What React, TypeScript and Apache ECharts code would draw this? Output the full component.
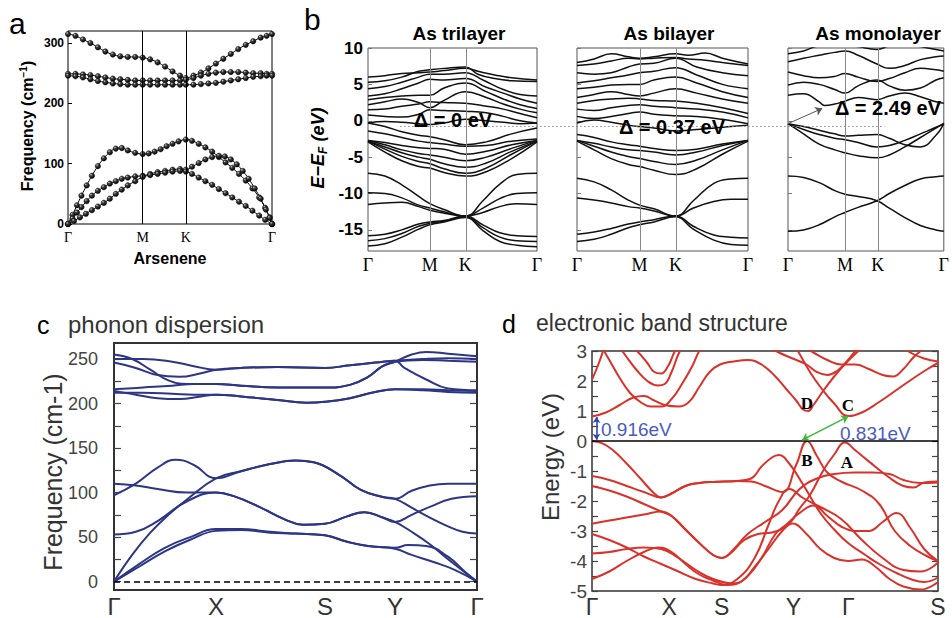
import React, { useEffect, useRef } from "react";
import * as echarts from "echarts";

// ---------- Panel a : arsenene phonons ----------
const A_TICKS = [0, 1, 1.577, 2.732];
const A_TICK_NAMES = ["Γ", "M", "K", "Γ"];
const A_Y_LABELS = [0, 100, 200, 300];
const A_BRANCHES: number[][][] = [
  [[0,315],[0.1,312],[0.2,306],[0.3,300],[0.4,293],[0.5,286],[0.6,281],[0.7,278],[0.8,277],[0.9,277],[1,276],[1.1,273],[1.2,268],[1.3,261],[1.4,253],[1.5,246],[1.577,242],[1.68,246],[1.78,251],[1.88,258],[1.98,266],[2.08,274],[2.18,282],[2.28,290],[2.38,297],[2.48,303],[2.58,309],[2.66,312],[2.732,315]],
  [[0,249],[0.1,249],[0.2,248],[0.3,247],[0.4,245],[0.5,243],[0.6,241],[0.7,240],[0.8,239],[0.9,238],[1,238],[1.1,238],[1.2,238],[1.3,238],[1.4,238],[1.5,238],[1.577,239],[1.68,242],[1.78,246],[1.88,249],[1.98,251],[2.08,252],[2.18,252],[2.28,252],[2.38,251],[2.48,250],[2.58,250],[2.66,249],[2.732,249]],
  [[0,246],[0.1,245],[0.2,243],[0.3,240],[0.4,237],[0.5,235],[0.6,233],[0.7,232],[0.8,231],[0.9,231],[1,231],[1.1,231],[1.2,231],[1.3,231],[1.4,231],[1.5,231],[1.577,231],[1.68,231],[1.78,232],[1.88,233],[1.98,234],[2.08,236],[2.18,238],[2.28,240],[2.38,242],[2.48,244],[2.58,245],[2.66,246],[2.732,246]],
  [[0,0],[0.06,15],[0.12,31],[0.18,47],[0.25,64],[0.32,80],[0.4,96],[0.48,109],[0.56,119],[0.64,125],[0.72,126],[0.8,122],[0.9,118],[1,116],[1.08,117],[1.16,120],[1.24,124],[1.32,129],[1.4,133],[1.48,137],[1.577,140],[1.66,138],[1.75,133],[1.84,127],[1.93,120],[2.02,111],[2.11,102],[2.2,93],[2.29,83],[2.38,72],[2.47,59],[2.56,44],[2.64,27],[2.7,11],[2.732,0]],
  [[0,0],[0.06,9],[0.12,19],[0.18,28],[0.25,38],[0.32,47],[0.4,55],[0.48,61],[0.56,67],[0.64,71],[0.72,75],[0.8,77],[0.9,79],[1,80],[1.1,83],[1.2,86],[1.3,88],[1.4,90],[1.5,91],[1.577,90],[1.66,95],[1.75,101],[1.84,107],[1.93,111],[2.02,113],[2.1,112],[2.18,107],[2.26,99],[2.34,88],[2.42,75],[2.5,59],[2.58,42],[2.65,24],[2.7,10],[2.732,0]],
  [[0,0],[0.08,5],[0.16,11],[0.24,17],[0.32,23],[0.4,29],[0.48,35],[0.56,42],[0.64,50],[0.72,57],[0.8,64],[0.9,71],[1,78],[1.1,81],[1.2,83],[1.3,85],[1.4,87],[1.5,88],[1.577,87],[1.66,83],[1.75,77],[1.84,71],[1.93,65],[2.02,58],[2.11,51],[2.2,44],[2.29,37],[2.38,30],[2.47,22],[2.56,14],[2.64,7],[2.732,0]],
];

// ---------- Panel b : As multilayer bands ----------
const B_TICKS = [0, 0.366, 0.576, 1];
const B_TICK_NAMES = ["Γ", "M", "K", "Γ"];
const B_Y_LABELS = [-15, -10, -5, 0, 5, 10];
const TRILAYER: number[][][] = [
  [[0,-7.2],[0.1,-7.6],[0.2,-8.8],[0.3,-10.4],[0.366,-11.4],[0.45,-12.2],[0.576,-13.1],[0.68,-11.0],[0.78,-8.7],[0.88,-7.4],[1,-7.2]],
  [[0,-9.9],[0.1,-10.0],[0.2,-10.6],[0.3,-11.6],[0.366,-12.0],[0.45,-12.5],[0.576,-13.1],[0.68,-12.0],[0.78,-10.7],[0.88,-10.0],[1,-9.9]],
  [[0,-11.5],[0.1,-11.3],[0.2,-11.2],[0.3,-11.8],[0.366,-12.3],[0.45,-12.7],[0.576,-13.1],[0.68,-12.6],[0.78,-11.8],[0.88,-11.4],[1,-11.5]],
  [[0,-15.8],[0.1,-15.6],[0.2,-15.0],[0.3,-14.2],[0.366,-13.9],[0.45,-13.7],[0.576,-13.1],[0.68,-14.3],[0.78,-15.4],[0.88,-15.8],[1,-15.9]],
  [[0,-16.5],[0.1,-16.2],[0.2,-15.5],[0.3,-14.5],[0.366,-14.1],[0.45,-13.8],[0.576,-13.2],[0.68,-14.7],[0.78,-16.0],[0.88,-16.5],[1,-16.6]],
  [[0,-17.2],[0.1,-16.9],[0.2,-16.0],[0.3,-14.9],[0.366,-14.3],[0.45,-13.9],[0.576,-13.3],[0.68,-15.1],[0.78,-16.6],[0.88,-17.1],[1,-17.3]],
  [[0,-2.7],[0.1,-3.0],[0.2,-3.4],[0.3,-3.7],[0.366,-3.8],[0.45,-3.9],[0.576,-4.6],[0.7,-4.2],[0.85,-3.3],[1,-2.7]],
  [[0,-2.7],[0.1,-3.3],[0.2,-4.0],[0.3,-4.5],[0.366,-4.7],[0.45,-5.0],[0.576,-5.5],[0.7,-5.0],[0.85,-3.8],[1,-2.7]],
  [[0,-2.8],[0.1,-3.6],[0.2,-4.4],[0.3,-5.0],[0.366,-5.3],[0.45,-5.9],[0.576,-6.4],[0.7,-5.8],[0.85,-4.2],[1,-2.8]],
  [[0,-2.8],[0.1,-3.9],[0.2,-4.9],[0.3,-5.6],[0.366,-5.9],[0.45,-6.6],[0.576,-7.2],[0.7,-6.5],[0.85,-4.6],[1,-2.8]],
  [[0,-2.9],[0.1,-4.3],[0.2,-5.5],[0.3,-6.3],[0.366,-6.5],[0.45,-7.1],[0.576,-7.6],[0.7,-7.0],[0.85,-5.2],[1,-2.9]],
  [[0,-1.4],[0.1,-1.8],[0.2,-2.3],[0.3,-2.8],[0.366,-3.0],[0.45,-3.2],[0.576,-3.5],[0.7,-3.4],[0.85,-2.8],[1,-2.5]],
  [[0,-0.3],[0.1,-0.8],[0.2,-1.5],[0.3,-2.0],[0.366,-2.2],[0.45,-2.6],[0.576,-3.3],[0.7,-2.9],[0.85,-1.8],[1,-1.0]],
  [[0,5.3],[0.1,5.5],[0.2,6.0],[0.3,6.8],[0.366,7.0],[0.45,7.2],[0.576,7.4],[0.65,6.4],[0.75,5.8],[0.85,5.5],[1,5.4]],
  [[0,4.4],[0.1,4.7],[0.2,5.3],[0.3,6.0],[0.366,6.4],[0.45,6.4],[0.576,6.6],[0.68,5.6],[0.8,4.3],[0.9,3.6],[1,3.4]],
  [[0,3.4],[0.1,3.7],[0.2,4.4],[0.3,5.2],[0.366,5.7],[0.45,5.6],[0.576,5.8],[0.7,4.6],[0.8,3.8],[0.9,3.0],[1,2.4]],
  [[0,2.9],[0.1,3.2],[0.2,3.4],[0.3,3.5],[0.366,3.5],[0.45,4.5],[0.576,5.2],[0.7,4.0],[0.8,3.0],[0.9,2.2],[1,1.7]],
  [[0,2.2],[0.1,2.6],[0.2,3.0],[0.3,2.5],[0.366,1.8],[0.45,2.8],[0.576,4.0],[0.7,3.2],[0.8,2.3],[0.9,1.6],[1,1.1]],
  [[0,1.5],[0.1,1.6],[0.2,2.0],[0.3,2.3],[0.366,2.6],[0.45,2.5],[0.576,2.4],[0.7,2.0],[0.8,1.6],[0.9,1.0],[1,0.4]],
  [[0,0.8],[0.1,0.6],[0.2,0.5],[0.3,0.9],[0.366,1.5],[0.45,1.4],[0.576,1.3],[0.7,1.1],[0.8,0.6],[0.9,0.0],[1,-0.3]],
  [[0,-0.3],[0.1,-0.1],[0.2,-0.2],[0.3,-0.4],[0.366,-0.5],[0.45,-0.3],[0.576,0.2],[0.7,0.0],[0.8,-0.2],[0.9,-0.4],[1,-0.3]],
  [[0,6.0],[0.1,6.2],[0.2,6.5],[0.3,6.6],[0.366,6.7],[0.45,6.9],[0.576,7.2],[0.65,6.8],[0.75,6.3],[0.85,5.9],[1,5.6]],
];
const BILAYER: number[][][] = [
  [[0,-7.9],[0.1,-8.4],[0.2,-9.5],[0.3,-10.9],[0.366,-11.6],[0.45,-12.1],[0.576,-13.1],[0.68,-11.0],[0.8,-8.6],[0.9,-8.0],[1,-7.9]],
  [[0,-10.6],[0.1,-10.9],[0.2,-11.3],[0.3,-11.8],[0.366,-12.0],[0.45,-12.4],[0.576,-13.1],[0.68,-12.0],[0.8,-11.1],[0.9,-10.8],[1,-10.8]],
  [[0,-15.6],[0.1,-15.3],[0.2,-14.8],[0.3,-14.2],[0.366,-13.9],[0.45,-13.6],[0.576,-13.1],[0.68,-14.5],[0.8,-15.7],[0.9,-16.0],[1,-16.1]],
  [[0,-16.6],[0.1,-16.3],[0.2,-15.6],[0.3,-14.7],[0.366,-14.3],[0.45,-13.9],[0.576,-13.2],[0.68,-14.9],[0.8,-16.4],[0.9,-17.0],[1,-17.1]],
  [[0,-2.7],[0.1,-3.1],[0.2,-3.6],[0.3,-4.0],[0.366,-4.1],[0.45,-4.3],[0.576,-4.7],[0.7,-4.3],[0.85,-3.4],[1,-2.7]],
  [[0,-2.7],[0.1,-3.5],[0.2,-4.3],[0.3,-4.9],[0.366,-5.2],[0.45,-5.6],[0.576,-6.0],[0.7,-5.4],[0.85,-4.0],[1,-2.7]],
  [[0,-2.8],[0.1,-4.0],[0.2,-5.2],[0.3,-6.0],[0.366,-6.3],[0.45,-6.8],[0.576,-7.4],[0.7,-6.6],[0.85,-4.6],[1,-2.8]],
  [[0,-1.9],[0.1,-2.3],[0.2,-2.9],[0.3,-3.3],[0.366,-3.5],[0.45,-3.8],[0.576,-4.1],[0.7,-3.9],[0.85,-3.2],[1,-2.7]],
  [[0,8.0],[0.1,8.5],[0.2,9.2],[0.3,8.8],[0.366,8.6],[0.45,8.8],[0.576,9.2],[0.65,9.0],[0.75,9.3],[0.85,8.6],[1,7.8]],
  [[0,7.6],[0.1,7.8],[0.2,8.2],[0.3,8.6],[0.366,8.5],[0.45,8.6],[0.576,8.7],[0.65,8.5],[0.75,8.3],[0.85,8.0],[1,7.6]],
  [[0,6.6],[0.1,6.4],[0.2,6.6],[0.3,7.4],[0.366,7.8],[0.45,7.9],[0.576,8.6],[0.7,7.4],[0.85,6.6],[1,6.2]],
  [[0,5.2],[0.1,5.5],[0.2,5.9],[0.3,6.3],[0.366,6.6],[0.45,6.8],[0.576,7.3],[0.7,6.3],[0.85,5.0],[1,4.4]],
  [[0,4.4],[0.1,4.6],[0.2,4.9],[0.3,5.0],[0.366,5.0],[0.45,5.6],[0.576,6.0],[0.7,5.2],[0.85,4.0],[1,3.2]],
  [[0,3.2],[0.1,3.6],[0.2,4.0],[0.3,3.6],[0.366,3.4],[0.45,3.8],[0.576,4.4],[0.7,3.8],[0.85,3.0],[1,2.4]],
  [[0,2.4],[0.1,2.8],[0.2,3.0],[0.3,3.1],[0.366,3.0],[0.45,2.8],[0.576,2.7],[0.7,2.4],[0.85,1.8],[1,1.0]],
  [[0,1.6],[0.1,1.4],[0.2,1.8],[0.3,2.1],[0.366,2.2],[0.45,2.0],[0.576,1.8],[0.7,1.6],[0.85,1.2],[1,0.4]],
  [[0,0.6],[0.1,0.3],[0.2,0.6],[0.3,1.0],[0.366,1.2],[0.45,0.9],[0.576,0.7],[0.7,0.6],[0.85,0.2],[1,-0.4]],
  [[0,-0.3],[0.1,0.1],[0.2,-0.2],[0.3,-0.6],[0.366,-0.8],[0.45,-1.0],[0.576,-1.4],[0.7,-1.2],[0.85,-0.9],[1,-0.6]],
];
const MONOLAYER: number[][][] = [
  [[0,-15.2],[0.1,-15.0],[0.2,-14.3],[0.3,-13.2],[0.366,-12.6],[0.45,-11.9],[0.571,-11.0],[0.65,-10.0],[0.75,-8.9],[0.85,-8.0],[0.95,-7.7],[1,-7.6]],
  [[0,-7.6],[0.1,-7.8],[0.2,-8.5],[0.3,-9.6],[0.366,-10.1],[0.45,-10.4],[0.571,-11.0],[0.65,-12.0],[0.75,-13.3],[0.85,-14.4],[0.95,-15.0],[1,-15.2]],
  [[0,-0.4],[0.1,-1.8],[0.2,-3.2],[0.3,-4.0],[0.366,-4.4],[0.45,-4.8],[0.571,-5.1],[0.65,-4.7],[0.75,-3.6],[0.85,-2.3],[0.95,-1.0],[1,-0.4]],
  [[0,-0.4],[0.1,-1.2],[0.2,-1.9],[0.3,-2.4],[0.366,-2.6],[0.45,-3.0],[0.571,-3.6],[0.65,-3.4],[0.75,-2.7],[0.85,-1.8],[0.95,-0.9],[1,-0.4]],
  [[0,-0.4],[0.1,-0.8],[0.2,-1.3],[0.3,-1.8],[0.366,-2.1],[0.45,-2.0],[0.571,-1.9],[0.65,-2.4],[0.75,-3.3],[0.85,-3.6],[0.95,-2.0],[1,-0.4]],
  [[0,3.5],[0.1,3.7],[0.2,2.6],[0.234,2.1],[0.3,2.3],[0.366,2.7],[0.45,3.2],[0.571,2.9],[0.65,3.4],[0.75,3.8],[0.85,3.3],[0.95,2.6],[1,2.4]],
  [[0,4.9],[0.1,5.3],[0.2,5.0],[0.3,4.3],[0.366,3.8],[0.45,4.8],[0.571,5.6],[0.65,4.8],[0.75,4.2],[0.85,4.5],[0.95,5.6],[1,5.9]],
  [[0,6.7],[0.1,6.2],[0.2,5.9],[0.3,6.1],[0.366,6.5],[0.45,6.0],[0.571,5.4],[0.65,5.8],[0.75,6.6],[0.85,7.2],[0.95,7.0],[1,6.8]],
  [[0,8.1],[0.1,8.6],[0.2,9.0],[0.3,9.4],[0.366,9.6],[0.45,9.0],[0.571,7.8],[0.65,7.2],[0.75,7.6],[0.85,8.4],[0.95,8.8],[1,8.9]],
  [[0,9.2],[0.1,9.6],[0.2,10.3],[0.366,10.5],[0.45,10.2],[0.571,9.8],[0.65,10.3],[0.75,10.6],[0.85,10.2],[1,9.6]],
];
const GAP_LEVEL = -0.78;

// ---------- Panel c : phonon dispersion ----------
const C_TICKS = [0, 0.281, 0.581, 0.774, 1];
const C_TICK_NAMES = ["Γ", "X", "S", "Y", "Γ"];
const C_Y_LABELS = [0, 50, 100, 150, 200, 250];
const C_Y_TICKS = [0, 25, 50, 75, 100, 125, 150, 175, 200, 225, 250];
const PHONON: number[][][] = [
  [[0,0],[0.07,17],[0.14,34],[0.21,47],[0.281,57],[0.35,58],[0.43,55],[0.5,54],[0.581,52],[0.64,45],[0.7,40],[0.774,37],[0.82,30],[0.88,22],[0.94,13],[1,0]],
  [[0,0],[0.07,20],[0.14,38],[0.21,50],[0.281,59],[0.35,59],[0.43,56],[0.5,54],[0.581,52],[0.64,45],[0.7,40],[0.774,38],[0.81,41],[0.86,40],[0.92,28],[0.97,10],[1,0]],
  [[0,53],[0.06,56],[0.12,68],[0.2,90],[0.281,100],[0.33,96],[0.4,84],[0.47,70],[0.52,64],[0.581,65],[0.64,73],[0.69,78],[0.74,72],[0.774,67],[0.82,56],[0.87,42],[0.93,22],[1,0]],
  [[0,110],[0.06,108],[0.12,104],[0.2,100],[0.281,100],[0.33,96],[0.4,84],[0.47,70],[0.52,64],[0.581,65],[0.64,73],[0.69,78],[0.74,72],[0.774,67],[0.82,75],[0.87,84],[0.93,93],[1,96]],
  [[0,0],[0.05,30],[0.1,55],[0.15,75],[0.2,92],[0.281,116],[0.35,124],[0.43,132],[0.5,136],[0.55,134],[0.62,120],[0.68,103],[0.74,95],[0.774,93],[0.82,83],[0.87,72],[0.92,62],[0.96,56],[1,54]],
  [[0,97],[0.06,110],[0.12,128],[0.17,137],[0.22,131],[0.281,116],[0.35,124],[0.43,132],[0.5,136],[0.55,134],[0.62,120],[0.68,103],[0.74,95],[0.774,93],[0.82,102],[0.87,108],[0.92,110],[1,110]],
  [[0,255],[0.05,250],[0.1,238],[0.15,226],[0.2,222],[0.281,222],[0.35,220],[0.45,218],[0.581,218],[0.65,221],[0.7,230],[0.74,242],[0.774,247],[0.82,255],[0.86,258],[0.92,256],[1,253]],
  [[0,250],[0.08,250],[0.16,247],[0.22,242],[0.281,238],[0.35,240],[0.45,241],[0.581,240],[0.65,243],[0.72,246],[0.774,248],[0.85,250],[0.92,251],[1,250]],
  [[0,246],[0.06,240],[0.12,232],[0.18,230],[0.24,234],[0.281,238],[0.35,240],[0.45,241],[0.581,240],[0.65,243],[0.72,246],[0.774,248],[0.8,240],[0.86,227],[0.92,217],[1,215]],
  [[0,216],[0.08,218],[0.16,220],[0.22,222],[0.281,222],[0.35,220],[0.45,218],[0.581,218],[0.65,221],[0.7,230],[0.74,242],[0.774,247],[0.85,249],[0.92,248],[1,247]],
  [[0,214],[0.06,210],[0.12,206],[0.18,205],[0.24,208],[0.281,210],[0.35,208],[0.45,204],[0.53,201],[0.581,202],[0.65,206],[0.72,213],[0.774,216],[0.85,216],[0.92,215],[1,214]],
  [[0,212],[0.08,212],[0.16,211],[0.22,210],[0.281,210],[0.35,208],[0.45,204],[0.53,201],[0.581,202],[0.65,206],[0.72,213],[0.774,216],[0.85,215],[0.92,213],[1,212]],
];

// ---------- Panel d : electronic band structure ----------
const D_TICKS = [0, 0.223, 0.375, 0.582, 0.741, 1];
const D_TICK_NAMES = ["Γ", "X", "S", "Y", "Γ", "S"];
const D_Y_LABELS = [-5, -4, -3, -2, -1, 0, 1, 2, 3];
const D_Y_TICKS = [-5,-4.5,-4,-3.5,-3,-2.5,-2,-1.5,-1,-0.5,0,0.5,1,1.5,2,2.5,3];
const ELECTRON: number[][][] = [
  [[0,0.82],[0.04,0.95],[0.08,1.2],[0.12,1.45],[0.15,1.5],[0.18,1.35],[0.21,1.2],[0.25,1.15],[0.28,1.3],[0.31,1.8],[0.34,2.3],[0.37,2.55],[0.41,2.65],[0.45,2.7],[0.49,2.55],[0.53,2.15],[0.56,1.75],[0.59,1.35],[0.61,1.05],[0.625,1.0],[0.64,1.2],[0.67,1.7],[0.7,2.15],[0.73,2.55],[0.77,3.0],[0.8,3.3]],
  [[0.58,3.3],[0.6,2.9],[0.63,2.3],[0.66,1.8],[0.7,1.25],[0.741,0.83],[0.78,0.95],[0.83,1.3],[0.88,1.7],[0.93,2.1],[0.97,2.4],[1,2.6]],
  [[0,2.05],[0.02,2.6],[0.04,3.3]],
  [[0.02,3.3],[0.05,2.7],[0.08,2.1],[0.11,1.6],[0.14,1.3],[0.17,1.15],[0.2,1.15],[0.23,1.4],[0.26,1.9],[0.29,2.5],[0.31,3.0],[0.33,3.3]],
  [[0.07,3.3],[0.1,2.8],[0.13,2.35],[0.16,2.0],[0.19,1.85],[0.21,1.9],[0.23,2.3],[0.25,2.9],[0.27,3.3]],
  [[0.1,3.3],[0.13,3.0],[0.16,2.6],[0.18,2.3],[0.2,2.25],[0.22,2.5],[0.24,3.0],[0.26,3.3]],
  [[0.5,3.2],[0.54,2.95],[0.58,2.75],[0.62,2.55],[0.65,2.3],[0.68,2.2],[0.71,2.35],[0.74,2.7],[0.77,3.1],[0.8,3.3]],
  [[0.6,3.2],[0.64,2.95],[0.68,2.7],[0.72,2.55],[0.76,2.55],[0.8,2.4],[0.84,2.2],[0.87,2.15],[0.9,2.4],[0.93,2.8],[0.96,3.1],[0.98,3.3]],
  [[0.88,3.3],[0.92,2.95],[0.96,2.75],[1,2.65]],
  [[0,0],[0.03,-0.08],[0.06,-0.3],[0.1,-0.75],[0.14,-1.25],[0.18,-1.75],[0.2,-1.88],[0.23,-1.75],[0.27,-1.5],[0.31,-1.4],[0.36,-1.36],[0.42,-1.33],[0.46,-1.25],[0.49,-0.85],[0.52,-0.55],[0.54,-0.47],[0.57,-0.75],[0.61,-1.45],[0.66,-2.4],[0.7,-2.95],[0.74,-3.4],[0.79,-3.8],[0.83,-4.1],[0.88,-4.4],[0.92,-4.6],[0.96,-4.7],[1,-4.55]],
  [[0,-1.17],[0.05,-1.3],[0.1,-1.5],[0.15,-1.7],[0.2,-1.88],[0.23,-1.75],[0.27,-1.5],[0.31,-1.4],[0.36,-1.36],[0.42,-1.33],[0.46,-1.35],[0.5,-1.5],[0.55,-1.7],[0.59,-0.8],[0.622,0],[0.65,-0.5],[0.68,-1.05],[0.72,-1.35],[0.78,-1.65],[0.83,-2.1],[0.875,-3.0],[0.92,-3.5],[0.97,-3.85],[1,-4.0]],
  [[0,-1.5],[0.05,-1.65],[0.1,-1.85],[0.15,-2.1],[0.2,-2.35],[0.23,-2.5],[0.27,-2.95],[0.31,-3.4],[0.35,-3.8],[0.375,-3.9],[0.4,-3.75],[0.44,-3.3],[0.48,-3.1],[0.52,-3.05],[0.57,-2.75],[0.6,-2.25],[0.63,-1.8],[0.67,-0.95],[0.7,-0.45],[0.731,-0.05],[0.76,-0.3],[0.8,-0.68],[0.857,-1.2],[0.9,-1.5],[0.93,-1.55],[0.96,-1.38],[1,-1.35]],
  [[0,-2.76],[0.05,-2.65],[0.1,-2.55],[0.15,-2.45],[0.2,-2.35],[0.23,-2.5],[0.27,-2.95],[0.31,-3.4],[0.35,-3.8],[0.375,-3.9],[0.41,-3.6],[0.45,-3.1],[0.5,-2.7],[0.55,-2.3],[0.6,-1.6],[0.65,-1.25],[0.7,-1.1],[0.76,-1.05],[0.81,-1.05],[0.86,-1.1],[0.9,-1.3],[0.95,-1.4],[1,-1.38]],
  [[0,-3.75],[0.05,-3.7],[0.1,-3.6],[0.15,-3.55],[0.2,-3.6],[0.25,-3.9],[0.3,-4.3],[0.35,-4.6],[0.41,-4.75],[0.45,-4.5],[0.49,-3.9],[0.53,-3.1],[0.56,-2.8],[0.6,-2.4],[0.64,-2.15],[0.68,-2.5],[0.72,-2.85],[0.76,-3.0],[0.8,-3.0],[0.84,-2.7],[0.88,-2.4],[0.92,-2.9],[0.96,-3.6],[1,-4.0]],
  [[0,-4.6],[0.05,-4.35],[0.1,-4.0],[0.15,-3.7],[0.19,-3.55],[0.23,-3.7],[0.27,-4.1],[0.31,-4.45],[0.35,-4.65],[0.39,-4.8],[0.43,-4.7],[0.47,-4.2],[0.51,-3.6],[0.55,-3.0],[0.58,-2.75],[0.62,-3.1],[0.66,-3.6],[0.7,-3.9],[0.74,-4.0],[0.78,-3.95],[0.82,-4.2],[0.86,-4.6],[0.9,-4.85],[0.95,-4.95],[1,-4.7]],
  [[0,-3.1],[0.05,-3.3],[0.1,-3.55],[0.15,-3.85],[0.2,-4.1],[0.25,-4.35],[0.3,-4.6],[0.35,-4.75],[0.375,-4.8],[0.42,-4.6],[0.47,-3.9],[0.51,-2.8],[0.54,-2.0],[0.57,-1.6],[0.61,-1.9],[0.66,-2.2],[0.72,-2.6],[0.78,-3.3],[0.84,-3.9],[0.9,-4.3],[0.95,-4.35],[1,-4.05]],
];

const serif = "'Liberation Serif','Times New Roman',serif";
const sans = "'Liberation Sans',Arial,Helvetica,sans-serif";
const narrow = "'Liberation Sans Narrow','Arial Narrow','Liberation Sans',Arial,sans-serif";

function nameOf(ticks: number[], names: string[]) {
  return (v: number) => {
    const i = ticks.findIndex((t) => Math.abs(t - v) < 1e-6);
    return i >= 0 ? names[i] : "";
  };
}

function kAxis(grid: number, max: number, ticks: number[], names: string[], label: any) {
  return {
    type: "value", gridIndex: grid, min: 0, max,
    axisLine: { show: false }, axisTick: { show: false }, splitLine: { show: false },
    axisLabel: { customValues: ticks, formatter: nameOf(ticks, names), ...label },
  };
}

function bandSeries(list: number[][][], grid: number, color: string, width: number) {
  return list.map((d) => ({
    type: "line", xAxisIndex: grid, yAxisIndex: grid, data: d,
    smooth: 0.45, symbol: "none", showSymbol: false, silent: true,
    lineStyle: { color, width }, z: 3,
  }));
}

function vLines(xs: number[], color: string) {
  return {
    silent: true, symbol: ["none", "none"], label: { show: false },
    lineStyle: { color, width: 1, type: "solid" },
    data: xs.map((x) => ({ xAxis: x })),
  };
}

export default function App() {
  const ref = useRef<HTMLDivElement>(null);
  useEffect(() => {
    document.body.style.margin = "0";
    const chart = echarts.init(ref.current!, null, { renderer: "svg" });

    const bead = new echarts.graphic.RadialGradient(0.35, 0.3, 0.7, [
      { offset: 0, color: "#d8d8d8" }, { offset: 0.3, color: "#444" }, { offset: 1, color: "#000" },
    ]);

    const grids = [
      { left: 68, top: 31, width: 204, height: 193, show: true, borderColor: "#000", borderWidth: 1 },
      { left: 368, top: 48, width: 169, height: 203, show: true, borderColor: "#555", borderWidth: 1 },
      { left: 577, top: 48, width: 171, height: 203, show: true, borderColor: "#555", borderWidth: 1 },
      { left: 788, top: 48, width: 171, height: 203, show: true, borderColor: "#555", borderWidth: 1 },
      { left: 114, top: 343, width: 363, height: 249, show: true, borderColor: "#333", borderWidth: 2 },
      { left: 592, top: 351, width: 346, height: 243, show: true, borderColor: "#333", borderWidth: 1.5 },
    ];

    const aLab = { fontFamily: serif, fontSize: 14, color: "#000", margin: 6 };
    const bLab = { fontFamily: serif, fontSize: 18, color: "#000", margin: 5 };
    const cLab = { fontFamily: sans, fontSize: 24, color: "#333", margin: 4 };
    const dLab = { fontFamily: sans, fontSize: 23, color: "#333", margin: 4 };

    const xAxes = [
      kAxis(0, 2.732, A_TICKS, A_TICK_NAMES, aLab),
      kAxis(1, 1, B_TICKS, B_TICK_NAMES, bLab),
      kAxis(2, 1, B_TICKS, B_TICK_NAMES, bLab),
      kAxis(3, 1, B_TICKS, B_TICK_NAMES, bLab),
      kAxis(4, 1, C_TICKS, C_TICK_NAMES, cLab),
      kAxis(5, 1, D_TICKS, D_TICK_NAMES, dLab),
    ];

    const bY = (grid: number, showLabel: boolean) => ({
      type: "value", gridIndex: grid, min: -17.9, max: 10,
      axisLine: { show: false }, splitLine: { show: false },
      axisTick: { show: true, inside: true, length: 4, customValues: B_Y_LABELS, lineStyle: { color: "#777" } },
      axisLabel: { show: showLabel, customValues: B_Y_LABELS, fontFamily: sans, fontWeight: "bold", fontSize: 17, color: "#000", margin: 5 },
    });

    const yAxes = [
      {
        type: "value", gridIndex: 0, min: 0, max: 320,
        axisLine: { show: false }, splitLine: { show: false },
        axisTick: { show: true, inside: true, length: 4, customValues: A_Y_LABELS, lineStyle: { color: "#000" } },
        axisLabel: { customValues: A_Y_LABELS, fontFamily: sans, fontWeight: "bold", fontSize: 12, color: "#000", margin: 4 },
      },
      bY(1, true), bY(2, false), bY(3, false),
      {
        type: "value", gridIndex: 4, min: -9.4, max: 268,
        axisLine: { show: false }, splitLine: { show: false },
        axisTick: { show: true, inside: true, length: 7, customValues: C_Y_TICKS, lineStyle: { color: "#444", width: 1.2 } },
        axisLabel: { customValues: C_Y_LABELS, fontFamily: narrow, fontSize: 18, color: "#444", margin: 16 },
      },
      {
        type: "value", gridIndex: 5, min: -5, max: 3,
        axisLine: { show: false }, splitLine: { show: false },
        axisTick: { show: true, inside: true, length: 6, customValues: D_Y_TICKS, lineStyle: { color: "#444", width: 1.2 } },
        axisLabel: { customValues: D_Y_LABELS, fontFamily: narrow, fontSize: 19, color: "#444", margin: 5 },
      },
      {
        type: "value", gridIndex: 4, position: "right", min: -9.4, max: 268,
        axisLine: { show: false }, splitLine: { show: false }, axisLabel: { show: false },
        axisTick: { show: true, inside: true, length: 7, customValues: C_Y_TICKS, lineStyle: { color: "#444", width: 1.2 } },
      },
      {
        type: "value", gridIndex: 5, position: "right", min: -5, max: 3,
        axisLine: { show: false }, splitLine: { show: false }, axisLabel: { show: false },
        axisTick: { show: true, inside: true, length: 6, customValues: D_Y_TICKS, lineStyle: { color: "#444", width: 1.2 } },
      },
    ];

    const aSeries: any[] = A_BRANCHES.map((d) => ({
      type: "line", xAxisIndex: 0, yAxisIndex: 0, data: d, smooth: 0.45,
      symbol: "circle", symbolSize: 5.5, showSymbol: true, silent: true,
      lineStyle: { color: "#000", width: 1 },
      itemStyle: { color: bead, borderColor: "#000", borderWidth: 0.4 }, z: 3,
    }));
    aSeries[0].markLine = vLines([A_TICKS[1], A_TICKS[2]], "#000");

    const tri: any[] = bandSeries(TRILAYER, 1, "#111", 1.5);
    tri[0].markLine = vLines([B_TICKS[1], B_TICKS[2]], "#888");
    const bi: any[] = bandSeries(BILAYER, 2, "#111", 1.5);
    bi[0].markLine = vLines([B_TICKS[1], B_TICKS[2]], "#888");
    const mono: any[] = bandSeries(MONOLAYER, 3, "#111", 1.5);
    mono[0].markLine = vLines([B_TICKS[1], B_TICKS[2]], "#888");
    mono[1].markLine = {
      silent: true, symbol: ["none", "arrow"], symbolSize: 7, label: { show: false },
      lineStyle: { color: "#555", width: 1, type: "solid" },
      data: [[{ coord: [0, -0.4] }, { coord: [0.22, 1.7] }]],
    };

    const cSeries: any[] = bandSeries(PHONON, 4, "#2d3585", 2);
    cSeries[0].markLine = {
      silent: true, symbol: ["none", "none"], label: { show: false },
      lineStyle: { color: "#000", width: 1.5, type: [6, 4] },
      data: [{ yAxis: 0 }],
    };

    const dSeries: any[] = bandSeries(ELECTRON, 5, "#d8322b", 2);
    dSeries[0].markLine = {
      silent: true, symbol: ["none", "none"], label: { show: false },
      lineStyle: { color: "#000", width: 1.5, type: "solid" },
      data: [{ yAxis: 0 }],
    };
    dSeries[1].markLine = {
      silent: true, symbol: ["arrow", "arrow"], symbolSize: 7, label: { show: false },
      lineStyle: { color: "#3cb93c", width: 1.6, type: "solid" },
      data: [[{ coord: [0.741, 0.82] }, { coord: [0.607, 0.03] }]],
    };
    dSeries[2].markLine = {
      silent: true, symbol: ["arrow", "arrow"], symbolSize: 6, label: { show: false },
      lineStyle: { color: "#2f44b0", width: 1.6, type: "solid" },
      data: [[{ coord: [0.013, 0.04] }, { coord: [0.013, 0.8] }]],
    };

    chart.setOption({
      animation: false,
      backgroundColor: "#fff",
      grid: grids,
      xAxis: xAxes,
      yAxis: yAxes,
      series: [...aSeries, ...tri, ...bi, ...mono, ...cSeries, ...dSeries],
    });

    const p1 = chart.convertToPixel({ xAxisIndex: 1, yAxisIndex: 1 }, [0.19, GAP_LEVEL]) as number[];
    const p2 = chart.convertToPixel({ xAxisIndex: 3, yAxisIndex: 3 }, [0.62, GAP_LEVEL]) as number[];

    const txt = (text: string, x: number, y: number, o: any = {}, extra: any = {}) => ({
      type: "text", x, y, z: 100, ...extra,
      style: { text, fill: "#000", fontFamily: sans, fontSize: 16, align: "center", verticalAlign: "middle", ...o },
    });

    chart.setOption({
      graphic: [
        {
          type: "line", z: 50, silent: true,
          shape: { x1: p1[0], y1: p1[1], x2: p2[0], y2: p2[1] },
          style: { stroke: "#888", lineWidth: 1, lineDash: [1.5, 2.5] },
        },
        txt("a", 9, 23, { fontSize: 30, align: "left" }),
        txt("b", 304, 19.5, { fontSize: 30, align: "left" }),
        txt("c", 37, 325, { fontSize: 25, align: "left" }),
        txt("d", 502, 323.5, { fontSize: 25, align: "left" }),
        txt("", 27, 126, {
          text: "{n|Frequency (cm}{s|−1}{n|)}",
          rich: {
            n: { fontFamily: sans, fontWeight: "bold", fontSize: 16, lineHeight: 18 },
            s: { fontFamily: sans, fontWeight: "bold", fontSize: 10, verticalAlign: "top", lineHeight: 18 },
          },
        }, { rotation: Math.PI / 2 }),
        txt("Arsenene", 170, 258, { fontWeight: "bold", fontSize: 16 }),
        txt("", 318, 148, {
          text: "{n|E−E}{s|F}{n| (eV)}",
          rich: {
            n: { fontFamily: sans, fontWeight: "bold", fontStyle: "italic", fontSize: 18, lineHeight: 22 },
            s: { fontFamily: sans, fontWeight: "bold", fontStyle: "italic", fontSize: 12, verticalAlign: "bottom", lineHeight: 22 },
          },
        }, { rotation: Math.PI / 2 }),
        txt("As trilayer", 459, 33, { fontWeight: "bold", fontSize: 19 }),
        txt("As bilayer", 669, 33, { fontWeight: "bold", fontSize: 19 }),
        txt("As monolayer", 878, 33, { fontWeight: "bold", fontSize: 19 }),
        txt("Δ = 0 eV", 453, 120, { fontWeight: "bold", fontSize: 20 }),
        txt("Δ = 0.37 eV", 672, 127, { fontWeight: "bold", fontSize: 20 }),
        txt("Δ = 2.49 eV", 888, 108, { fontWeight: "bold", fontSize: 20 }),
        txt("phonon dispersion", 68, 324.6, { fontSize: 24, align: "left", fill: "#333" }),
        txt("electronic band structure", 536, 323, { fontSize: 23, align: "left", fill: "#333" }),
        txt("Frequency (cm-1)", 53, 472, { fontSize: 25, fill: "#333" }, { rotation: Math.PI / 2 }),
        txt("Energy (eV)", 550, 457, { fontSize: 24, fill: "#333" }, { rotation: Math.PI / 2 }),
        txt("0.916eV", 601, 429, { fontSize: 19, align: "left", fill: "#4a5bbf" }),
        txt("0.831eV", 840, 433, { fontSize: 19, align: "left", fill: "#4a5bbf" }),
        txt("D", 807, 403, { fontFamily: serif, fontWeight: "bold", fontSize: 17 }),
        txt("C", 848, 405, { fontFamily: serif, fontWeight: "bold", fontSize: 17 }),
        txt("B", 807, 460, { fontFamily: serif, fontWeight: "bold", fontSize: 17 }),
        txt("A", 847, 462, { fontFamily: serif, fontWeight: "bold", fontSize: 17 }),
      ],
    });

    return () => chart.dispose();
  }, []);
  return (
    <div
      ref={ref}
      style={{ position: "fixed", left: 0, top: 0, width: 952, height: 618, background: "#fff" }}
    />
  );
}
